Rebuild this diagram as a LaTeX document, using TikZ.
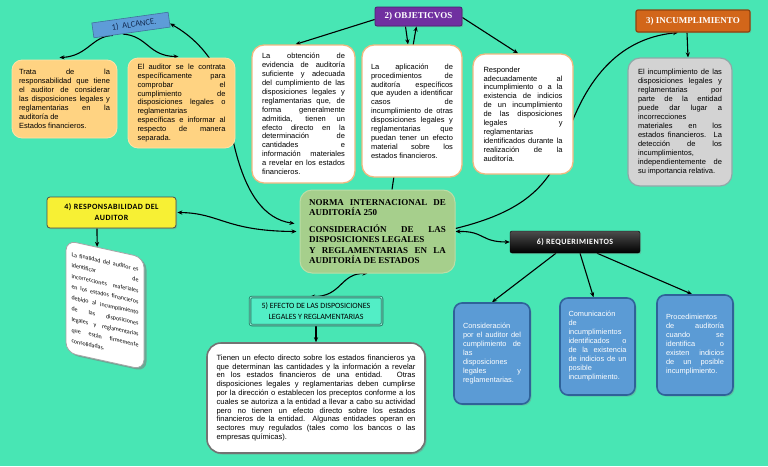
\documentclass[tikz,border=0pt]{standalone}
\usepackage{fontspec}
\setmainfont{Liberation Sans}
\newfontfamily\serifbf{Liberation Serif}
\newfontfamily\calfont{Carlito}
\newfontfamily\calsp[LetterSpace=6]{Carlito}
\usetikzlibrary{calc,arrows.meta,shadows}
\pgfdeclarelayer{back}
\pgfdeclarelayer{lines}
\pgfsetlayers{back,lines,main}
\definecolor{bgc}{HTML}{48E6B4}
\definecolor{orfill}{HTML}{FFD382}
\definecolor{oredge}{HTML}{FFE2A6}
\definecolor{whedge}{HTML}{F2B880}
\definecolor{grfill}{HTML}{D3D3D3}
\definecolor{gredge}{HTML}{8FA8A8}
\definecolor{purp}{HTML}{7030A0}
\definecolor{purpedge}{HTML}{4A1F6E}
\definecolor{incfill}{HTML}{D2661A}
\definecolor{incedge}{HTML}{8E4410}
\definecolor{normafill}{HTML}{A6CF8C}
\definecolor{normaedge}{HTML}{BCDDA6}
\definecolor{yel}{HTML}{F7F034}
\definecolor{efffill}{HTML}{52EEC6}
\definecolor{effedge}{HTML}{237A64}
\definecolor{bluefill}{HTML}{5B9BD5}
\definecolor{blueedge}{HTML}{2F6299}
\definecolor{alcfill}{HTML}{5E9CD8}
\definecolor{alcedge}{HTML}{41719C}
\definecolor{navy}{HTML}{132A50}
\begin{document}
\begin{tikzpicture}[x=1pt,y=-1pt,
  txtbox/.style={align=justify, inner sep=0pt, font=\fontsize{7.5}{8.9}\selectfont},
  orbox/.style={txtbox, fill=orfill, draw=oredge, line width=0.8pt, rounded corners=10pt},
  whbox/.style={txtbox, fill=white, draw=whedge, line width=1.3pt, rounded corners=12pt},
  grbox/.style={txtbox, fill=grfill, draw=gredge, line width=1.2pt, rounded corners=12pt, font=\fontsize{7.5}{9}\selectfont},
  bluebox/.style={txtbox, fill=bluefill, draw=blueedge, line width=1.6pt, rounded corners=8pt, text=white,
     font=\fontsize{7.4}{9}\selectfont, text width=58pt,
     drop shadow={shadow xshift=1.5pt, shadow yshift=-1.5pt, opacity=0.35}},
  headbox/.style={inner sep=0pt, align=center, drop shadow={shadow xshift=1.2pt, shadow yshift=-1.2pt, opacity=0.35}},
  arr/.style={draw=black, line width=1.1pt, -{Stealth[length=5pt,width=4.2pt]}},
  darr/.style={draw=black, line width=1.1pt, {Stealth[length=5pt,width=4.2pt]}-{Stealth[length=5pt,width=4.2pt]}}
]
\begin{pgfonlayer}{back}
\fill[bgc] (0,0) rectangle (768,466);
\end{pgfonlayer}
\useasboundingbox (0,0) rectangle (768,466);

% 1) ALCANCE
\node[rotate=8, fill=alcfill, draw=alcedge, line width=0.6pt, minimum width=77pt, minimum height=15pt,
      inner sep=0pt, text=navy, font=\calfont\fontsize{8.5}{9}\selectfont] (alc) at (131,25) {\hspace{6pt}1)\ \ ALCANCE.};

\node[orbox, minimum width=105pt, minimum height=78pt, text width=91pt] (a1) at (64.5,99)
 {Trata de la\linebreak responsabilidad que tiene\linebreak el auditor de considerar\linebreak las disposiciones legales y\linebreak reglamentarias en la\linebreak auditoría de\newline Estados financieros.};

\node[orbox, minimum width=107pt, minimum height=90pt, text width=88pt] (a2) at (181.5,103)
 {El auditor se le contrata\linebreak específicamente para\linebreak comprobar el\linebreak cumplimiento de\linebreak disposiciones legales o\linebreak reglamentarias\newline específicas e informar al\linebreak respecto de manera\linebreak separada.};

% 2) OBJETIVOS
\node[headbox, fill=purp, draw=purpedge, line width=0.8pt, rounded corners=2pt, minimum width=87pt, minimum height=19pt,
      text=white, font=\serifbf\bfseries\fontsize{9}{10}\selectfont] (obj) at (418.5,16.5) {2) OBJETICVOS};

\node[whbox, minimum width=103pt, minimum height=138pt, text width=83pt] (o1) at (303.5,114)
 {La obtención de\linebreak evidencia de auditoría\linebreak suficiente y adecuada\linebreak del cumplimiento de las\linebreak disposiciones legales y\linebreak reglamentarias que, de\linebreak forma generalmente\linebreak admitida, tienen un\linebreak efecto directo en la\linebreak determinación de\linebreak cantidades e\linebreak información materiales\linebreak a revelar en los estados\linebreak financieros.};

\node[whbox, minimum width=100pt, minimum height=132pt, text width=82pt] (o2) at (412,111)
 {La aplicación de\linebreak procedimientos de\linebreak auditoría específicos\linebreak que ayuden a identificar\linebreak casos de\linebreak incumplimiento de otras\linebreak disposiciones legales y\linebreak reglamentarias que\linebreak puedan tener un efecto\linebreak material sobre los\linebreak estados financieros.};

\node[whbox, minimum width=100pt, minimum height=120pt, text width=79pt] (o3) at (523,114)
 {Responder\newline adecuadamente al\linebreak incumplimiento o a la\linebreak existencia de indicios\linebreak de un incumplimiento\linebreak de las disposiciones\linebreak legales y\linebreak reglamentarias\newline identificados durante la\linebreak realización de la\linebreak auditoría.};

% 3) INCUMPLIMIENTO
\node[headbox, fill=incfill, draw=incedge, line width=1.2pt, rounded corners=2pt, minimum width=114pt, minimum height=22pt,
      text=white, font=\serifbf\bfseries\fontsize{9}{10}\selectfont] (inc) at (693,21) {3) INCUMPLIMIENTO};

\node[grbox, minimum width=104pt, minimum height=128pt, text width=84pt] (grey) at (680,122)
 {El incumplimiento de las\linebreak disposiciones legales y\linebreak reglamentarias por\linebreak parte de la entidad\linebreak puede dar lugar a\linebreak incorrecciones\newline materiales en los\linebreak estados financieros. La\linebreak detección de los\linebreak incumplimientos,\newline independientemente de\linebreak su importancia relativa.};

% NORMA
\node[fill=normafill, draw=normaedge, line width=1pt, rounded corners=12pt, minimum width=155pt, minimum height=83pt,
      inner sep=0pt, text width=137pt, align=justify, font=\serifbf\bfseries\fontsize{9}{10.5}\selectfont] (norma) at (377.5,231.5)
 {NORMA INTERNACIONAL DE\linebreak AUDITORÍA 250\par\vspace{6pt}CONSIDERACIÓN DE LAS\linebreak DISPOSICIONES LEGALES\newline Y REGLAMENTARIAS EN LA\linebreak AUDITORÍA DE ESTADOS};

% 4) RESPONSABILIDAD
\node[headbox, fill=yel, draw=black!70, line width=0.8pt, rounded corners=3pt, minimum width=129pt, minimum height=31pt,
      font=\calsp\bfseries\fontsize{8}{11}\selectfont] (resp) at (111.5,212.5) {4) RESPONSABILIDAD DEL\\AUDITOR};

\begin{scope}[shift={(105,305)}, yslant=-0.22]
\node[transform shape, fill=white, draw=black!35, line width=0.8pt, rounded corners=10pt, minimum width=78pt, minimum height=112pt,
      inner sep=0pt, text width=67pt, align=justify, font=\calfont\fontsize{6}{10.8}\selectfont,
      drop shadow={shadow xshift=2.5pt, shadow yshift=-2pt, opacity=0.6}] (rot) at (0,0)
 {La finalidad del auditor es\linebreak identificar de\linebreak incorrecciones materiales\linebreak en los estados financieros\linebreak debido al incumplimiento\linebreak de las disposiciones\linebreak legales y reglamentarias\linebreak que están firmemente\linebreak consolidadas.};
\end{scope}

% 5) EFECTO
\node[headbox, fill=efffill, draw=effedge, line width=0.9pt, double=efffill!60!white, double distance=0.7pt, rounded corners=2pt,
      minimum width=132pt, minimum height=28pt, font=\calfont\fontsize{8}{10.5}\selectfont] (eff) at (316,311)
 {5) EFECTO DE LAS DISPOSICIONES\\LEGALES Y REGLAMENTARIAS};

\node[txtbox, fill=white, draw=black!55, line width=1.6pt, rounded corners=14pt, minimum width=218pt, minimum height=110pt,
      text width=199pt, font=\fontsize{7.6}{8.8}\selectfont,
      drop shadow={shadow xshift=1.5pt, shadow yshift=-1.5pt, opacity=0.4}] (big) at (316,398)
 {Tienen un efecto directo sobre los estados financieros ya\linebreak que determinan las cantidades y la información a revelar\linebreak en los estados financieros de una entidad. Otras\linebreak disposiciones legales y reglamentarias deben cumplirse\linebreak por la dirección o establecen los preceptos conforme a los\linebreak cuales se autoriza a la entidad a llevar a cabo su actividad\linebreak pero no tienen un efecto directo sobre los estados\linebreak financieros de la entidad. Algunas entidades operan en\linebreak sectores muy regulados (tales como los bancos o las\linebreak empresas químicas).};

% 6) REQUERIMIENTOS
\node[headbox, top color=black!70, bottom color=black, draw=black, rounded corners=2pt, minimum width=130pt, minimum height=22pt,
      text=white, font=\calsp\bfseries\fontsize{8}{10}\selectfont] (req) at (575,242) {6) REQUERIMIENTOS};

\node[bluebox, minimum width=76pt, minimum height=101pt] (b1) at (492,353.5)
 {Consideración\newline por el auditor del\linebreak cumplimiento de\linebreak las\newline disposiciones\newline legales y\linebreak reglamentarias.};
\node[bluebox, minimum width=75pt, minimum height=97pt] (b2) at (597.5,346.5)
 {Comunicación\newline de\newline incumplimientos\newline identificados o\linebreak de la existencia\linebreak de indicios de un\linebreak posible\newline incumplimiento.};
\node[bluebox, minimum width=76pt, minimum height=100pt] (b3) at (695,345)
 {Procedimientos\newline de auditoría\linebreak cuando se\linebreak identifica o\linebreak existen indicios\linebreak de un posible\linebreak incumplimiento.};

% connectors
\begin{pgfonlayer}{lines}
\draw[arr] ($(alc.south west)!0.25!(alc.south east)$) .. controls (92,36) and (88,56) .. ($(a1.north)+(-5,-2)$);
\draw[arr] ($(alc.south west)!0.38!(alc.south east)$) .. controls (148,36) and (148,56) .. ($(a2.north)+(-3,-1)$);
\draw[darr] ($(alc.east)!0.5!(alc.south east)$) .. controls (190,35) and (208,50) .. (222,80)
   .. controls (230,115) and (235,215) .. ($(norma.west)+(-5,-8)$);
\draw[darr] ($(resp.east)+(1,0)$) .. controls (220,213) and (225,231) .. ($(norma.west)+(-3,0)$);
\draw[arr] ($(obj.west)+(0,3)$) -- ($(o1.north)+(-8,0)$);
\draw[arr] ($(obj.south)+(-13,0)$) -- ($(o2.north)+(-4,0)$);
\draw[arr] ($(obj.east)+(0,1)$) -- ($(o3.north)+(-5,0)$);
\draw[arr] ($(norma.north)+(14.5,0)$) .. controls (398,150) and (410,60) .. ($(obj.south)+(-2,0)$);
\draw[arr] ($(norma.east)+(0,-3)$) .. controls (510,215) and (545,195) .. (562,150)
   .. controls (575,110) and (600,40) .. ($(inc.south)+(-15,0)$);
\draw[darr] ($(norma.east)+(0,0)$) .. controls (485,231) and (480,242) .. (req.west);
\draw[arr] ($(inc.south)+(-6,0)$) -- ($(grey.north)+(8,0)$);
\draw[arr] ($(resp.south)+(-14.5,0)$) -- ($(rot.north west)!0.4!(rot.north east)$);
\draw[darr] ($(norma.south)+(-10,0)$) .. controls (340,273) and (342,297) .. ($(eff.north)+(-6,0)$);
\draw[arr] (eff.south) -- (big.north);
\draw[arr] ($(req.south)+(-19,0)$) -- (b1.north);
\draw[arr] ($(req.south)+(5,0)$) -- ($(b2.north)+(-4,0)$);
\draw[arr] ($(req.south)+(22,0)$) -- ($(b3.north)+(-3,0)$);
\end{pgfonlayer}
\end{tikzpicture}
\end{document}
